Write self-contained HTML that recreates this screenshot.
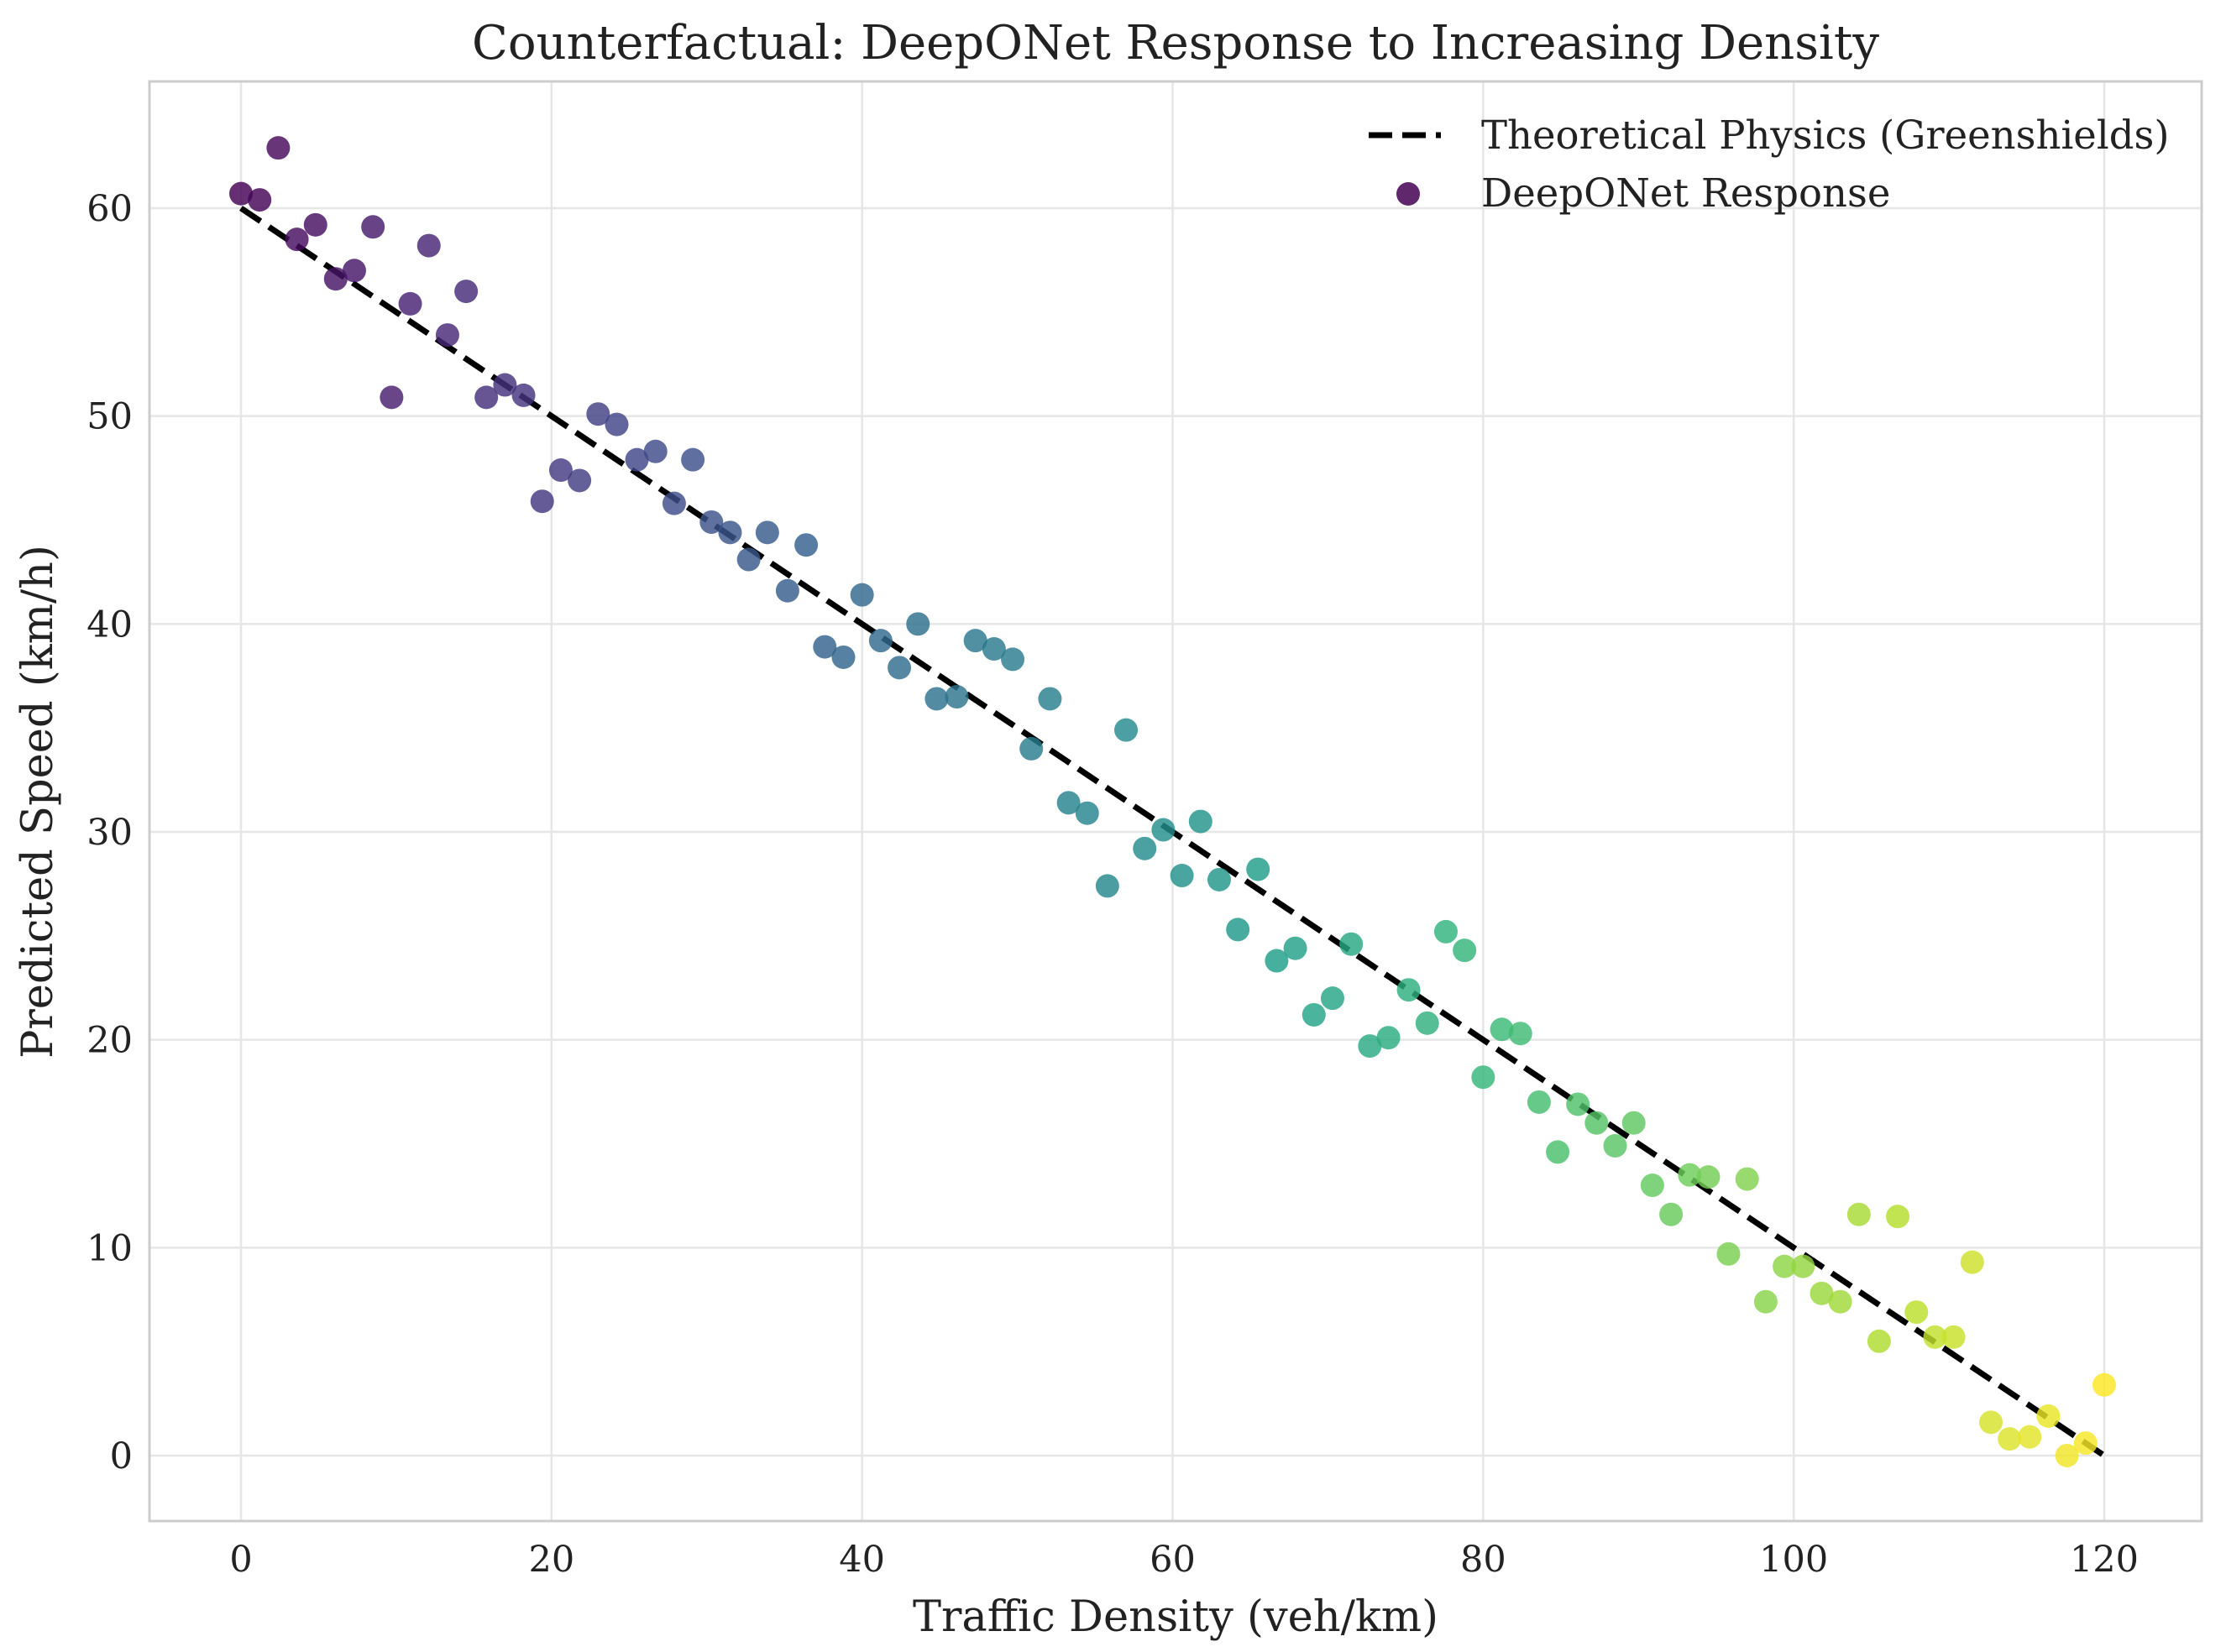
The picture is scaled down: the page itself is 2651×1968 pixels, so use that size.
<!DOCTYPE html>
<html><head><meta charset="utf-8"><style>
html,body{margin:0;padding:0;background:#fff;}
svg{display:block;font-family:"DejaVu Serif","Liberation Serif",serif;}
</style></head><body>
<svg id="chart" width="2651" height="1968" viewBox="0 0 2651 1968" xmlns="http://www.w3.org/2000/svg">
<rect width="2651" height="1968" fill="#fff"/>
<g id="grid"></g>
<g id="line"></g>
<g id="pts"></g>
<rect x="178" y="97" width="2444" height="1715" fill="none" stroke="#cccccc" stroke-width="3"/>
<g id="ticks"></g>
<text x="1400" y="70" font-size="56" text-anchor="middle" fill="#222">Counterfactual: DeepONet Response to Increasing Density</text>
<text x="1400" y="1943" font-size="51" text-anchor="middle" fill="#222">Traffic Density (veh/km)</text>
<text transform="translate(62,955) rotate(-90)" font-size="51" text-anchor="middle" fill="#222">Predicted Speed (km/h)</text>
<g>
<line x1="1630" y1="161" x2="1716" y2="161" stroke="#000" stroke-width="7" stroke-dasharray="28,12"/>
<text x="1764" y="177" font-size="46.5" fill="#222">Theoretical Physics (Greenshields)</text>
<circle cx="1677" cy="231" r="14" fill="#440154" fill-opacity="0.85"/>
<text x="1764" y="246" font-size="46.5" fill="#222">DeepONet Response</text>
</g>
</svg>
<script>
const densities=[0,1.2,2.4,3.6,4.8,6.1,7.3,8.5,9.7,10.9,12.1,13.3,14.5,15.8,17.0,18.2,19.4,20.6,21.8,23.0,24.2,25.5,26.7,27.9,29.1,30.3,31.5,32.7,33.9,35.2,36.4,37.6,38.8,40.0,41.2,42.4,43.6,44.8,46.1,47.3,48.5,49.7,50.9,52.1,53.3,54.5,55.8,57.0,58.2,59.4,60.6,61.8,63.0,64.2,65.5,66.7,67.9,69.1,70.3,71.5,72.7,73.9,75.2,76.4,77.6,78.8,80.0,81.2,82.4,83.6,84.8,86.1,87.3,88.5,89.7,90.9,92.1,93.3,94.5,95.8,97.0,98.2,99.4,100.6,101.8,103.0,104.2,105.5,106.7,107.9,109.1,110.3,111.5,112.7,113.9,115.2,116.4,117.6,118.8,120.0];
const speeds=[60.7,60.4,62.9,58.5,59.2,56.6,57.0,59.1,50.9,55.4,58.2,53.9,56.0,50.9,51.5,51.0,45.9,47.4,46.9,50.1,49.6,47.9,48.3,45.8,47.9,44.9,44.4,43.1,44.4,41.6,43.8,38.9,38.4,41.4,39.2,37.9,40.0,36.4,36.5,39.2,38.8,38.3,34.0,36.4,31.4,30.9,27.4,34.9,29.2,30.1,27.9,30.5,27.7,25.3,28.2,23.8,24.4,21.2,22.0,24.6,19.7,20.1,22.4,20.8,25.2,24.3,18.2,20.5,20.3,17.0,14.6,16.9,16.0,14.9,16.0,13.0,11.6,13.5,13.4,9.7,13.3,7.4,9.1,9.1,7.8,7.4,11.6,5.5,11.5,6.9,5.7,5.7,9.3,1.6,0.8,0.9,1.9,0.0,0.6,3.4];
const xTicks=[0,20,40,60,80,100,120];
const yTicks=[0,10,20,30,40,50,60];
const vfree=60, kjam=120;
const NS="http://www.w3.org/2000/svg";
const X=v=>287+v*(2506-287)/120;
const Y=v=>1734-v*(1734-248)/60;
function mk(t,a,p){const e=document.createElementNS(NS,t);for(const k in a)e.setAttribute(k,a[k]);p.appendChild(e);return e;}
const vir=[[68,1,84],[72,40,120],[62,74,137],[49,104,142],[38,130,142],[31,158,137],[53,183,121],[109,205,89],[180,222,44],[253,231,37]];
function cmap(t){t=Math.max(0,Math.min(1,t))*(vir.length-1);const i=Math.min(Math.floor(t),vir.length-2),f=t-i;const c=vir[i].map((v,j)=>Math.round(v+(vir[i+1][j]-v)*f));return `rgb(${c})`;}
const g=document.getElementById('grid'),tk=document.getElementById('ticks');
xTicks.forEach(v=>{
const l=mk('line',{x1:X(v),x2:X(v),y1:97,y2:1812,stroke:'#e6e6e6','stroke-width':2.5},g);


const t=mk('text',{x:X(v),y:1872,'font-size':43,'text-anchor':'middle',fill:'#222'},tk);t.textContent=v;


});
yTicks.forEach(v=>{
const l=mk('line',{x1:178,x2:2622,y1:Y(v),y2:Y(v),stroke:'#e6e6e6','stroke-width':2.5},g);


const t=mk('text',{x:158,y:Y(v)+15,'font-size':43,'text-anchor':'end',fill:'#222'},tk);t.textContent=v;


});
const ln=mk('line',{x1:X(0),y1:Y(vfree),x2:X(kjam),y2:Y(0),stroke:'#000','stroke-width':7,'stroke-dasharray':'28,12'},document.getElementById('line'));


const pg=document.getElementById('pts');
densities.forEach((d,i)=>{
const c=mk('circle',{cx:X(d),cy:Y(speeds[i]),r:14,fill:cmap(d/120),'fill-opacity':0.82},pg);


});
</script>
</body></html>
